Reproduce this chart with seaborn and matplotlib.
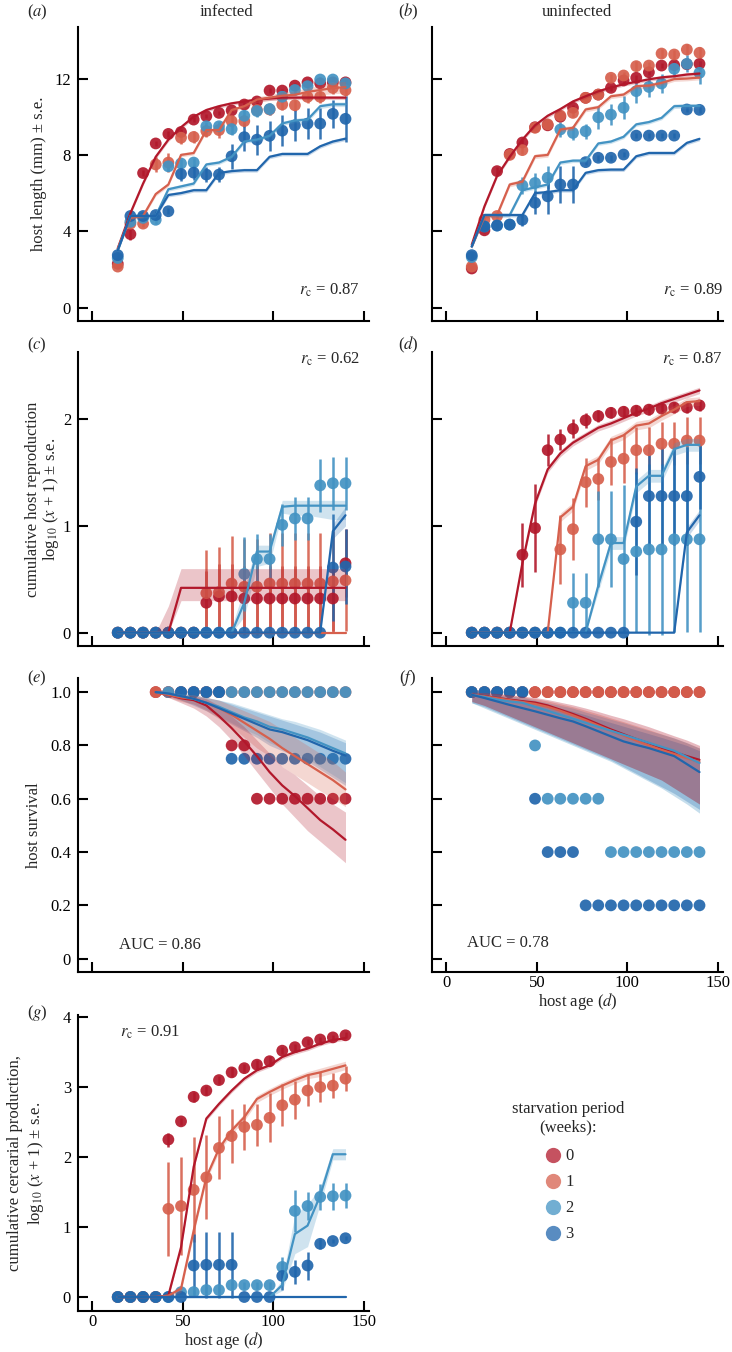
import numpy as np
import pandas as pd
import matplotlib
matplotlib.use("Agg")
import matplotlib.pyplot as plt
from matplotlib.lines import Line2D
import seaborn as sns

# estilo geral
sns.set_theme(style="ticks")
plt.rcParams['font.family'] = ['Liberation Serif', 'DejaVu Serif']
plt.rcParams['mathtext.fontset'] = 'stix'
plt.rcParams['font.size'] = 12

nan = np.nan

# --- dados ---
WEEKS = [0, 1, 2, 3]
PAL = {0: '#b2182b', 1: '#d6604d', 2: '#4393c3', 3: '#2166ac'}

AGES = [14, 21, 28, 35, 42, 49, 56, 63, 70, 77, 84, 91, 98, 105, 112, 119, 126, 133, 140]
E_AGES = [35, 42, 49, 56, 63, 70, 77, 84, 91, 98, 105, 112, 119, 126, 133, 140]

# (a) comprimento, infectados
a_mean = {
    0: [2.3, 3.85, 7.05, 8.6, 9.1, 9.2, 9.85, 10.03, 10.2, 10.33, 10.64, 10.8, 11.37, 11.37, 11.63, 11.8, 11.75, 11.8, 11.8],
    1: [2.15, 4.4, 4.4, 7.5, 7.6, 8.9, 8.94, 9.25, 9.3, 9.77, 9.77, 10.35, 10.38, 10.64, 10.6, 11.04, 11.04, 11.51, 11.39],
    2: [2.6, 4.5, 4.7, 4.6, 7.4, 7.55, 7.6, 9.5, 9.5, 9.35, 10.05, 10.3, 10.4, 11.05, 11.4, 11.6, 11.95, 11.95, 11.75],
    3: [2.75, 4.8, 4.8, 4.85, 5.05, 7.0, 7.07, 6.97, 6.97, 7.93, 8.93, 8.8, 9.0, 9.27, 9.55, 9.64, 9.64, 10.15, 9.89],
}
a_se = {
    0: [0.15, 0.3, 0.15, 0.15, 0.15, 0.15, 0.12, 0.1, 0.1, 0.1, 0.12, 0.12, 0.12, 0.1, 0.12, 0.1, 0.12, 0.15, 0.2],
    1: [0.12, 0.3, 0.2, 0.4, 0.5, 0.35, 0.3, 0.3, 0.4, 0.3, 0.3, 0.3, 0.3, 0.3, 0.3, 0.3, 0.3, 0.3, 0.3],
    2: [0.12, 0.2, 0.15, 0.2, 0.25, 0.25, 0.25, 0.25, 0.25, 0.3, 0.3, 0.3, 0.3, 0.3, 0.25, 0.2, 0.15, 0.15, 0.15],
    3: [0.12, 0.2, 0.15, 0.2, 0.15, 0.35, 0.4, 0.4, 0.4, 0.66, 0.75, 0.78, 0.8, 0.8, 0.8, 0.8, 0.8, 0.75, 1.2],
}
a_fit = {
    0: [3.1, 4.95, 6.5, 7.9, 8.8, 9.45, 10.0, 10.35, 10.55, 10.7, 10.8, 10.9, 10.95, 11.0, 11.0, 11.0, 11.0, 11.0, 11.0],
    1: [3.1, 4.7, 4.8, 5.95, 6.45, 8.0, 8.1, 9.3, 9.3, 10.35, 10.55, 10.9, 11.0, 11.1, 11.15, 11.3, 11.4, 11.5, 11.55],
    2: [3.0, 4.8, 4.8, 4.8, 6.2, 6.35, 6.5, 7.5, 7.6, 7.9, 8.7, 8.8, 9.0, 9.65, 9.8, 9.85, 10.55, 10.65, 10.65],
    3: [3.0, 4.8, 4.8, 4.8, 5.9, 6.0, 6.15, 6.15, 7.05, 7.15, 7.2, 7.2, 7.9, 8.05, 8.05, 8.05, 8.45, 8.7, 8.85],
}
a_bw = {
    0: [0.1, 0.1, 0.1, 0.1, 0.1, 0.1, 0.1, 0.1, 0.1, 0.1, 0.1, 0.1, 0.1, 0.1, 0.1, 0.1, 0.1, 0.1, 0.1],
    1: [0.1, 0.1, 0.1, 0.1, 0.1, 0.1, 0.1, 0.1, 0.1, 0.1, 0.1, 0.15, 0.15, 0.2, 0.2, 0.2, 0.25, 0.3, 0.3],
    2: [0.1, 0.1, 0.1, 0.1, 0.1, 0.1, 0.1, 0.1, 0.1, 0.1, 0.1, 0.1, 0.1, 0.1, 0.12, 0.12, 0.12, 0.12, 0.12],
    3: [0.1, 0.1, 0.1, 0.1, 0.1, 0.1, 0.1, 0.1, 0.1, 0.1, 0.1, 0.1, 0.1, 0.1, 0.1, 0.1, 0.1, 0.1, 0.1],
}

# (b) comprimento, não infectados
b_mean = {
    0: [2.05, 4.05, 7.15, 8.05, 8.65, 9.45, 9.55, 10.0, 10.47, 10.99, 11.16, 11.51, 11.9, 12.04, 12.33, 12.68, 12.7, 12.75, 12.77],
    1: [2.15, 4.6, 4.8, 8.0, 8.25, 9.42, 9.6, 10.06, 10.2, 10.99, 11.16, 12.04, 12.16, 12.65, 12.68, 13.31, 13.26, 13.52, 13.35],
    2: [2.65, 4.25, 4.3, 4.35, 6.4, 6.53, 6.8, 9.33, 9.15, 9.24, 9.97, 10.11, 10.47, 11.34, 11.56, 11.74, 12.51, 12.77, 12.3],
    3: [2.75, 4.25, 4.3, 4.35, 4.6, 5.49, 5.83, 6.45, 6.45, 7.62, 7.85, 7.85, 8.02, 9.01, 9.01, 9.01, 9.01, 10.38, 10.36],
}
b_se = {
    0: [0.1, 0.15, 0.2, 0.15, 0.15, 0.15, 0.15, 0.12, 0.15, 0.15, 0.15, 0.15, 0.2, 0.15, 0.15, 0.15, 0.15, 0.15, 0.15],
    1: [0.1, 0.15, 0.15, 0.15, 0.2, 0.15, 0.2, 0.2, 0.2, 0.2, 0.2, 0.2, 0.2, 0.25, 0.2, 0.25, 0.25, 0.3, 0.3],
    2: [0.1, 0.15, 0.15, 0.15, 0.45, 0.5, 0.6, 0.4, 0.35, 0.4, 0.6, 0.55, 0.6, 0.6, 0.55, 0.5, 0.45, 0.45, 0.6],
    3: [0.1, 0.15, 0.15, 0.15, 0.3, 0.6, 0.95, 0.95, 0.95, 0.15, 0.15, 0.15, 0.15, 0.15, 0.15, 0.15, 0.15, 0.15, 0.15],
}
b_fit = {
    0: [3.3, 5.3, 6.9, 7.9, 8.8, 9.55, 10.05, 10.4, 10.8, 11.07, 11.33, 11.53, 11.7, 11.83, 11.96, 12.06, 12.12, 12.21, 12.26],
    1: [3.2, 4.75, 4.85, 6.45, 6.6, 7.93, 8.0, 9.33, 9.42, 10.38, 10.5, 11.07, 11.16, 11.6, 11.63, 11.77, 11.97, 12.0, 12.05],
    2: [3.2, 4.85, 4.85, 4.85, 6.15, 6.3, 6.45, 7.6, 7.7, 7.7, 8.6, 8.7, 8.95, 9.6, 9.72, 9.94, 10.55, 10.57, 10.57],
    3: [3.2, 4.85, 4.85, 4.85, 4.85, 6.0, 6.05, 6.15, 6.15, 7.06, 7.2, 7.23, 7.23, 7.93, 8.1, 8.1, 8.1, 8.63, 8.84],
}
b_bw = {
    0: [0.1, 0.1, 0.1, 0.1, 0.1, 0.1, 0.1, 0.1, 0.1, 0.1, 0.1, 0.1, 0.1, 0.1, 0.1, 0.1, 0.1, 0.1, 0.1],
    1: [0.1, 0.1, 0.1, 0.12, 0.12, 0.12, 0.12, 0.12, 0.12, 0.12, 0.12, 0.12, 0.12, 0.12, 0.12, 0.12, 0.12, 0.12, 0.12],
    2: [0.1, 0.1, 0.1, 0.1, 0.1, 0.1, 0.1, 0.1, 0.1, 0.1, 0.1, 0.1, 0.1, 0.1, 0.1, 0.1, 0.12, 0.12, 0.12],
    3: [0.1, 0.1, 0.1, 0.1, 0.1, 0.1, 0.1, 0.1, 0.1, 0.1, 0.1, 0.1, 0.1, 0.1, 0.1, 0.1, 0.1, 0.1, 0.1],
}

# (c) reprodução acumulada, infectados
c_mean = {
    0: [0, 0, 0, 0, 0, 0, 0, 0.28, 0.34, 0.34, 0.32, 0.32, 0.32, 0.32, 0.32, 0.32, 0.32, 0.32, 0.65],
    1: [0, 0, 0, 0, 0, 0, 0, 0.37, 0.38, 0.46, 0.43, 0.43, 0.46, 0.46, 0.46, 0.46, 0.46, 0.48, 0.49],
    2: [0, 0, 0, 0, 0, 0, 0, 0, 0, 0, 0.55, 0.69, 0.69, 1.01, 1.07, 1.07, 1.38, 1.4, 1.4],
    3: [0, 0, 0, 0, 0, 0, 0, 0, 0, 0, 0, 0, 0, 0, 0, 0, 0, 0.61, 0.62],
}
c_se = {
    0: [0, 0, 0, 0, 0, 0, 0, 0.3, 0.3, 0.3, 0.3, 0.3, 0.3, 0.3, 0.3, 0.3, 0.3, 0.3, 0.32],
    1: [0, 0, 0, 0, 0, 0, 0, 0.4, 0.42, 0.45, 0.45, 0.45, 0.47, 0.47, 0.47, 0.47, 0.47, 0.47, 0.47],
    2: [0, 0, 0, 0, 0, 0, 0, 0, 0, 0, 0.35, 0.23, 0.23, 0.2, 0.2, 0.2, 0.25, 0.25, 0.25],
    3: [0, 0, 0, 0, 0, 0, 0, 0, 0, 0, 0, 0, 0, 0, 0, 0, 0, 0.5, 0.35],
}
c_fit = {
    0: [0, 0, 0, 0, 0, 0.42, 0.42, 0.42, 0.42, 0.42, 0.42, 0.42, 0.42, 0.42, 0.42, 0.42, 0.42, 0.42, 0.42],
    1: [0, 0, 0, 0, 0, 0, 0, 0, 0, 0, 0, 0, 0, 0, 0, 0, 0, 0, 0],
    2: [0, 0, 0, 0, 0, 0, 0, 0, 0, 0, 0.28, 0.76, 0.76, 1.18, 1.19, 1.19, 1.19, 1.19, 1.19],
    3: [0, 0, 0, 0, 0, 0, 0, 0, 0, 0, 0, 0, 0, 0, 0, 0, 0, 0.95, 1.1],
}
c_lo = {
    0: [0, 0, 0, 0, 0, 0.3, 0.3, 0.3, 0.3, 0.3, 0.3, 0.3, 0.3, 0.3, 0.3, 0.3, 0.3, 0.3, 0.3],
    2: [0, 0, 0, 0, 0, 0, 0, 0, 0, 0, 0.15, 0.62, 0.65, 1.12, 1.1, 1.1, 1.08, 1.06, 1.06],
    3: [0, 0, 0, 0, 0, 0, 0, 0, 0, 0, 0, 0, 0, 0, 0, 0, 0, 0.88, 1.0],
}
c_hi = {
    0: [0, 0, 0, 0, 0.25, 0.6, 0.6, 0.6, 0.6, 0.6, 0.6, 0.6, 0.6, 0.6, 0.6, 0.6, 0.6, 0.6, 0.6],
    2: [0, 0, 0, 0, 0, 0, 0, 0, 0, 0.05, 0.42, 0.82, 0.82, 1.24, 1.24, 1.24, 1.24, 1.24, 1.24],
    3: [0, 0, 0, 0, 0, 0, 0, 0, 0, 0, 0, 0, 0, 0, 0, 0, 0, 1.02, 1.18],
}

# (d) reprodução acumulada, não infectados
d_mean = {
    0: [0, 0, 0, 0, 0.73, 0.98, 1.71, 1.81, 1.91, 1.99, 2.03, 2.06, 2.07, 2.08, 2.09, 2.1, 2.11, 2.11, 2.13],
    1: [0, 0, 0, 0, 0, 0, 0, 0.78, 0.97, 1.41, 1.44, 1.6, 1.63, 1.71, 1.71, 1.77, 1.77, 1.8, 1.8],
    2: [0, 0, 0, 0, 0, 0, 0, 0, 0.28, 0.28, 0.875, 0.875, 0.69, 0.76, 0.78, 0.78, 0.875, 0.875, 0.875],
    3: [0, 0, 0, 0, 0, 0, 0, 0, 0, 0, 0, 0, 0, 1.04, 1.28, 1.28, 1.28, 1.28, 1.46],
}
d_se = {
    0: [0, 0, 0, 0, 0.3, 0.41, 0.15, 0.1, 0.09, 0.07, 0.06, 0.05, 0.05, 0.05, 0.05, 0.05, 0.05, 0.05, 0.05],
    1: [0, 0, 0, 0, 0, 0, 0, 0.32, 0.29, 0.23, 0.2, 0.22, 0.23, 0.22, 0.22, 0.2, 0.2, 0.22, 0.22],
    2: [0, 0, 0, 0, 0, 0, 0, 0, 0.28, 0.28, 0.45, 0.45, 0.69, 0.75, 0.8, 0.8, 0.87, 0.87, 0.87],
    3: [0, 0, 0, 0, 0, 0, 0, 0, 0, 0, 0, 0, 0, 0.5, 0.46, 0.46, 0.46, 0.46, 0.3],
}
d_fit = {
    0: [0, 0, 0, 0, 0.65, 1.21, 1.53, 1.68, 1.78, 1.85, 1.92, 1.96, 2.01, 2.06, 2.1, 2.15, 2.19, 2.23, 2.27],
    1: [0, 0, 0, 0, 0, 0, 0, 1.08, 1.18, 1.56, 1.62, 1.8, 1.85, 1.94, 1.96, 2.03, 2.09, 2.16, 2.17],
    2: [0, 0, 0, 0, 0, 0, 0, 0, 0, 0, 0.44, 0.84, 0.84, 1.37, 1.47, 1.47, 1.72, 1.76, 1.76],
    3: [0, 0, 0, 0, 0, 0, 0, 0, 0, 0, 0, 0, 0, 0, 0, 0, 0, 0.94, 1.1],
}
d_bw = {
    0: [0, 0, 0, 0, 0.03, 0.03, 0.03, 0.03, 0.03, 0.03, 0.03, 0.03, 0.03, 0.03, 0.03, 0.03, 0.03, 0.03, 0.03],
    1: [0, 0, 0, 0, 0, 0, 0, 0.04, 0.04, 0.04, 0.04, 0.04, 0.04, 0.04, 0.04, 0.04, 0.04, 0.04, 0.04],
    2: [0, 0, 0, 0, 0, 0, 0, 0, 0, 0, 0.06, 0.06, 0.06, 0.06, 0.06, 0.06, 0.06, 0.06, 0.06],
    3: [0, 0, 0, 0, 0, 0, 0, 0, 0, 0, 0, 0, 0, 0, 0, 0, 0, 0.05, 0.05],
}

# (e) sobrevivência, infectados (a partir de 35 dias)
e_mean = {
    0: [1.0, 1.0, 1.0, 1.0, 1.0, 1.0, 0.8, 0.8, 0.6, 0.6, 0.6, 0.6, 0.6, 0.6, 0.6, 0.6],
    1: [1.0, 1.0, 1.0, 1.0, 1.0, 1.0, 1.0, 1.0, 1.0, 1.0, 1.0, 1.0, 1.0, 1.0, 1.0, 1.0],
    2: [nan, 1.0, 1.0, 1.0, 1.0, 1.0, 1.0, 1.0, 1.0, 1.0, 1.0, 1.0, 1.0, 1.0, 1.0, 1.0],
    3: [nan, nan, 1.0, 1.0, 1.0, 1.0, 0.75, 0.75, 0.75, 0.75, 0.75, 0.75, 0.75, 0.75, 0.75, 0.75],
}
e_fit = {
    0: [1.0, 0.99, 0.977, 0.97, 0.95, 0.91, 0.865, 0.815, 0.76, 0.70, 0.65, 0.61, 0.565, 0.52, 0.485, 0.446],
    1: [1.0, 0.99, 0.98, 0.975, 0.96, 0.94, 0.915, 0.885, 0.855, 0.825, 0.79, 0.76, 0.73, 0.70, 0.67, 0.635],
    2: [1.0, 0.995, 0.985, 0.975, 0.96, 0.945, 0.925, 0.905, 0.89, 0.87, 0.86, 0.845, 0.83, 0.81, 0.79, 0.77],
    3: [1.0, 0.995, 0.985, 0.975, 0.96, 0.94, 0.92, 0.9, 0.88, 0.86, 0.85, 0.835, 0.82, 0.80, 0.78, 0.762],
}
e_lo = {
    0: [1.0, 0.98, 0.96, 0.94, 0.91, 0.87, 0.82, 0.76, 0.7, 0.64, 0.58, 0.53, 0.48, 0.44, 0.4, 0.36],
    1: [1.0, 0.98, 0.965, 0.955, 0.93, 0.9, 0.87, 0.83, 0.79, 0.76, 0.72, 0.69, 0.66, 0.63, 0.6, 0.57],
    2: [1.0, 0.985, 0.97, 0.955, 0.935, 0.91, 0.885, 0.86, 0.84, 0.81, 0.79, 0.77, 0.75, 0.72, 0.69, 0.66],
    3: [1.0, 0.985, 0.97, 0.95, 0.93, 0.905, 0.88, 0.855, 0.83, 0.8, 0.78, 0.76, 0.74, 0.71, 0.68, 0.65],
}
e_hi = {
    0: [1.0, 1.0, 0.99, 0.985, 0.975, 0.95, 0.91, 0.87, 0.82, 0.77, 0.72, 0.69, 0.65, 0.61, 0.58, 0.55],
    1: [1.0, 1.0, 0.99, 0.99, 0.98, 0.97, 0.95, 0.93, 0.91, 0.89, 0.86, 0.83, 0.8, 0.77, 0.74, 0.7],
    2: [1.0, 1.0, 0.995, 0.99, 0.98, 0.97, 0.96, 0.945, 0.93, 0.915, 0.9, 0.89, 0.875, 0.86, 0.84, 0.82],
    3: [1.0, 1.0, 0.995, 0.99, 0.98, 0.97, 0.955, 0.94, 0.925, 0.91, 0.895, 0.88, 0.865, 0.85, 0.83, 0.81],
}

# (f) sobrevivência, não infectados
f_mean = {
    0: [1.0, 1.0, 1.0, 1.0, 1.0, 1.0, 1.0, 1.0, 1.0, 1.0, 1.0, 1.0, 1.0, 1.0, 1.0, 1.0, 1.0, 1.0, 1.0],
    1: [1.0, 1.0, 1.0, 1.0, 1.0, 1.0, 1.0, 1.0, 1.0, 1.0, 1.0, 1.0, 1.0, 1.0, 1.0, 1.0, 1.0, 1.0, 1.0],
    2: [1.0, 1.0, 1.0, 1.0, 1.0, 0.8, 0.6, 0.6, 0.6, 0.6, 0.6, 0.4, 0.4, 0.4, 0.4, 0.4, 0.4, 0.4, 0.4],
    3: [1.0, 1.0, 1.0, 1.0, 1.0, 0.6, 0.4, 0.4, 0.4, 0.2, 0.2, 0.2, 0.2, 0.2, 0.2, 0.2, 0.2, 0.2, 0.2],
}
f_fit = {
    0: [0.99, 0.985, 0.978, 0.972, 0.966, 0.961, 0.95, 0.934, 0.918, 0.9, 0.88, 0.86, 0.842, 0.824, 0.808, 0.79, 0.775, 0.76, 0.746],
    1: [0.99, 0.984, 0.977, 0.97, 0.963, 0.956, 0.945, 0.93, 0.913, 0.895, 0.875, 0.855, 0.837, 0.818, 0.8, 0.783, 0.768, 0.752, 0.738],
    2: [0.99, 0.982, 0.972, 0.965, 0.96, 0.945, 0.93, 0.915, 0.9, 0.885, 0.87, 0.855, 0.84, 0.825, 0.81, 0.795, 0.78, 0.757, 0.734],
    3: [0.99, 0.978, 0.965, 0.952, 0.94, 0.928, 0.915, 0.902, 0.89, 0.872, 0.853, 0.834, 0.815, 0.802, 0.79, 0.775, 0.76, 0.73, 0.7],
}
f_lo = {
    0: [0.965, 0.95, 0.93, 0.91, 0.89, 0.87, 0.85, 0.83, 0.81, 0.79, 0.77, 0.75, 0.73, 0.71, 0.69, 0.67, 0.64, 0.61, 0.58],
    1: [0.965, 0.95, 0.93, 0.91, 0.89, 0.87, 0.85, 0.83, 0.81, 0.79, 0.77, 0.75, 0.73, 0.71, 0.69, 0.67, 0.64, 0.61, 0.58],
    2: [0.96, 0.94, 0.92, 0.9, 0.88, 0.86, 0.84, 0.82, 0.8, 0.78, 0.76, 0.74, 0.715, 0.69, 0.665, 0.64, 0.61, 0.58, 0.546],
    3: [0.96, 0.945, 0.925, 0.905, 0.885, 0.865, 0.845, 0.825, 0.805, 0.785, 0.765, 0.745, 0.72, 0.695, 0.67, 0.645, 0.62, 0.59, 0.56],
}
f_hi = {
    0: [1.0, 0.998, 0.995, 0.99, 0.985, 0.98, 0.972, 0.962, 0.952, 0.94, 0.927, 0.913, 0.9, 0.885, 0.87, 0.853, 0.836, 0.82, 0.8],
    1: [1.0, 0.997, 0.993, 0.988, 0.982, 0.976, 0.967, 0.956, 0.945, 0.932, 0.918, 0.903, 0.889, 0.874, 0.859, 0.843, 0.827, 0.81, 0.79],
    2: [1.0, 0.995, 0.99, 0.985, 0.98, 0.97, 0.96, 0.95, 0.94, 0.925, 0.912, 0.898, 0.885, 0.87, 0.856, 0.842, 0.828, 0.81, 0.79],
    3: [1.0, 0.993, 0.985, 0.978, 0.97, 0.96, 0.95, 0.94, 0.928, 0.915, 0.9, 0.886, 0.872, 0.858, 0.844, 0.83, 0.815, 0.8, 0.78],
}

# (g) produção acumulada de cercárias
g_mean = {
    0: [0, 0, 0, 0, 2.25, 2.51, 2.86, 2.95, 3.1, 3.21, 3.27, 3.32, 3.37, 3.52, 3.57, 3.64, 3.68, 3.71, 3.74],
    1: [0, 0, 0, 0, 1.26, 1.3, 1.53, 1.71, 2.13, 2.3, 2.43, 2.46, 2.56, 2.74, 2.82, 2.95, 3.0, 3.02, 3.12],
    2: [0, 0, 0, 0, 0, 0.07, 0.07, 0.1, 0.1, 0.17, 0.17, 0.17, 0.17, 0.43, 1.23, 1.3, 1.43, 1.44, 1.45],
    3: [0, 0, 0, 0, 0, 0, 0.45, 0.46, 0.46, 0.46, 0, 0, 0, 0.3, 0.36, 0.45, 0.76, 0.8, 0.84],
}
g_se = {
    0: [0, 0, 0, 0, 0.1, 0.05, 0.07, 0.07, 0.06, 0.07, 0.06, 0.07, 0.07, 0.05, 0.05, 0.04, 0.04, 0.04, 0.04],
    1: [0, 0, 0, 0, 0.67, 0.7, 0.75, 0.6, 0.45, 0.38, 0.33, 0.3, 0.35, 0.3, 0.27, 0.22, 0.22, 0.18, 0.18],
    2: [0, 0, 0, 0, 0, 0.03, 0.03, 0.04, 0.04, 0.05, 0.05, 0.05, 0.05, 0.14, 0.3, 0.2, 0.18, 0.19, 0.18],
    3: [0, 0, 0, 0, 0, 0, 0.45, 0.47, 0.47, 0.47, 0, 0, 0, 0.2, 0.17, 0.2, 0.07, 0.03, 0.03],
}
g_fit = {
    0: [0, 0, 0, 0, 0.02, 0.71, 1.86, 2.55, 2.76, 2.95, 3.12, 3.24, 3.31, 3.43, 3.5, 3.55, 3.62, 3.67, 3.7],
    1: [0, 0, 0, 0, 0.02, 0.12, 0.95, 1.71, 2.12, 2.38, 2.57, 2.83, 2.93, 3.02, 3.1, 3.17, 3.21, 3.26, 3.31],
    2: [0, 0, 0, 0, 0, 0, 0, 0, 0, 0, 0, 0, 0, 0.17, 0.9, 1.02, 1.45, 2.04, 2.04],
    3: [0, 0, 0, 0, 0, 0, 0, 0, 0, 0, 0, 0, 0, 0, 0, 0, 0, 0, 0],
}
g_bw = {
    0: [0, 0, 0, 0, 0.03, 0.03, 0.03, 0.03, 0.03, 0.03, 0.03, 0.03, 0.03, 0.03, 0.03, 0.03, 0.03, 0.03, 0.03],
    1: [0, 0, 0, 0, 0.03, 0.05, 0.05, 0.05, 0.05, 0.05, 0.05, 0.05, 0.05, 0.05, 0.05, 0.05, 0.06, 0.06, 0.06],
    2: [0, 0, 0, 0, 0, 0, 0, 0, 0, 0, 0, 0, 0, 0.08, 0.28, 0.3, 0.12, 0.08, 0.08],
    3: [0, 0, 0, 0, 0, 0, 0, 0, 0, 0, 0, 0, 0, 0, 0, 0, 0, 0, 0],
}


def long_table(ages, series):
    rows = []
    for w in WEEKS:
        for t, v in zip(ages, series[w]):
            rows.append({'age': t, 'value': v, 'week': w})
    return pd.DataFrame(rows).dropna()


def draw_panel(ax, ages, mean, fit, se=None, bw=None, lo=None, hi=None,
               band_alpha=0.25, band_order=(3, 2, 1, 0)):
    # barras de erro
    if se is not None:
        for w in WEEKS:
            m = np.array(mean[w], dtype=float)
            s = np.array(se[w], dtype=float)
            keep = s > 0
            ax.vlines(np.array(ages)[keep], (m - s)[keep], (m + s)[keep],
                      color=PAL[w], lw=1.8, alpha=0.9, zorder=2)
    # pontos observados
    sns.scatterplot(data=long_table(ages, mean), x='age', y='value', hue='week',
                    palette=PAL, s=72, linewidth=0, alpha=0.92, legend=False,
                    ax=ax, zorder=3)
    # faixas do modelo
    for w in band_order:
        f = np.array(fit[w], dtype=float)
        if bw is not None:
            b = np.array(bw[w], dtype=float)
            ax.fill_between(ages, f - b, f + b, color=PAL[w], alpha=band_alpha,
                            lw=0, zorder=4)
        elif lo is not None and w in lo:
            ax.fill_between(ages, lo[w], hi[w], color=PAL[w], alpha=band_alpha,
                            lw=0, zorder=4)
    # linhas do modelo
    sns.lineplot(data=long_table(ages, fit), x='age', y='value', hue='week',
                 palette=PAL, estimator=None, lw=1.6, legend=False, ax=ax,
                 zorder=5)
    ax.set_xlabel('')
    ax.set_ylabel('')


# --- figura ---
W, H = 732, 1352
fig = plt.figure(figsize=(W / 100, H / 100), dpi=100)


def axes_px(x0, top, w, h):
    return fig.add_axes([x0 / W, 1 - (top + h) / H, w / W, h / H])


LX, RX, AW = 78, 432, 291
ax_a = axes_px(LX, 27, AW, 294)
ax_b = axes_px(RX, 27, AW, 294)
ax_c = axes_px(LX, 352, AW, 294)
ax_d = axes_px(RX, 352, AW, 294)
ax_e = axes_px(LX, 678, AW, 294)
ax_f = axes_px(RX, 678, AW, 294)
ax_g = axes_px(LX, 1015, AW, 296)

draw_panel(ax_a, AGES, a_mean, a_fit, se=a_se, bw=a_bw)
draw_panel(ax_b, AGES, b_mean, b_fit, se=b_se, bw=b_bw)
draw_panel(ax_c, AGES, c_mean, c_fit, se=c_se, lo=c_lo, hi=c_hi)
draw_panel(ax_d, AGES, d_mean, d_fit, se=d_se, bw=d_bw)
draw_panel(ax_e, E_AGES, e_mean, e_fit, lo=e_lo, hi=e_hi)
draw_panel(ax_f, AGES, f_mean, f_fit, lo=f_lo, hi=f_hi, band_alpha=0.3,
           band_order=(1, 3, 2, 0))
draw_panel(ax_g, AGES, g_mean, g_fit, se=g_se, bw=g_bw)

for ax in [ax_a, ax_b, ax_c, ax_d, ax_e, ax_f, ax_g]:
    sns.despine(ax=ax)
    for sp in ['left', 'bottom']:
        ax.spines[sp].set_linewidth(1.5)
        ax.spines[sp].set_color('black')
    ax.tick_params(direction='in', length=7, width=1.5, colors='black',
                   labelsize=12, pad=5)
    ax.tick_params(axis='x', pad=2)
    ax.set_xlim(-8, 153)
    ax.set_xticks([0, 50, 100, 150])

for ax in [ax_a, ax_b]:
    ax.set_ylim(-0.7, 14.7)
    ax.set_yticks([0, 4, 8, 12])
for ax in [ax_c, ax_d]:
    ax.set_ylim(-0.125, 2.63)
    ax.set_yticks([0, 1, 2])
for ax in [ax_e, ax_f]:
    ax.set_ylim(-0.05, 1.053)
    ax.set_yticks([0, 0.2, 0.4, 0.6, 0.8, 1.0])
    ax.set_yticklabels(['0', '0.2', '0.4', '0.6', '0.8', '1.0'])
ax_g.set_ylim(-0.2, 4.03)
ax_g.set_yticks([0, 1, 2, 3, 4])

for ax in [ax_a, ax_b, ax_c, ax_d, ax_e]:
    ax.tick_params(labelbottom=False)
for ax in [ax_b, ax_d, ax_f]:
    ax.tick_params(labelleft=False)

# rótulos dos eixos
ax_a.set_ylabel('host length (mm) ± s.e.', fontsize=12, labelpad=5)
ax_c.set_ylabel('cumulative host reproduction\nlog$_{10}$ ($x$ + 1) ± s.e.',
                fontsize=12, labelpad=1, linespacing=1.0)
ax_e.set_ylabel('host survival', fontsize=12, labelpad=6)
ax_g.set_ylabel('cumulative cercarial production,\nlog$_{10}$ ($x$ + 1) ± s.e.',
                fontsize=12, labelpad=12)
ax_f.set_xlabel('host age ($d$)', fontsize=12, labelpad=0)
ax_g.set_xlabel('host age ($d$)', fontsize=12, labelpad=0)

# anotações
ax_a.text(0.97, 0.105, r'$r_{\mathrm{c}}$ = 0.87', transform=ax_a.transAxes,
          ha='right', va='center', fontsize=12)
ax_b.text(1.0, 0.105, r'$r_{\mathrm{c}}$ = 0.89', transform=ax_b.transAxes,
          ha='right', va='center', fontsize=12)
ax_c.text(0.97, 0.975, r'$r_{\mathrm{c}}$ = 0.62', transform=ax_c.transAxes,
          ha='right', va='center', fontsize=12)
ax_d.text(1.0, 0.975, r'$r_{\mathrm{c}}$ = 0.87', transform=ax_d.transAxes,
          ha='right', va='center', fontsize=12)
ax_e.text(0.14, 0.092, 'AUC = 0.86', transform=ax_e.transAxes,
          ha='left', va='center', fontsize=12)
ax_f.text(0.12, 0.1, 'AUC = 0.78', transform=ax_f.transAxes,
          ha='left', va='center', fontsize=12)
ax_g.text(0.144, 0.94, r'$r_{\mathrm{c}}$ = 0.91', transform=ax_g.transAxes,
          ha='left', va='center', fontsize=12)

# letras dos painéis e títulos das colunas
for letter, px, py in [('a', 37, 12), ('b', 408, 12), ('c', 37, 345),
                       ('d', 408, 345), ('e', 37, 678), ('f', 408, 678),
                       ('g', 37, 1013)]:
    fig.text(px / W, 1 - py / H, '($%s$)' % letter, ha='center', va='center',
             fontsize=12)
fig.text(226 / W, 1 - 12 / H, 'infected', ha='center', va='center', fontsize=12)
fig.text(577 / W, 1 - 12 / H, 'uninfected', ha='center', va='center', fontsize=12)

# legenda
fig.text(568 / W, 1 - 1118 / H, 'starvation period\n(weeks):', ha='center',
         va='center', fontsize=12, linespacing=1.15)
handles = [Line2D([], [], marker='o', ls='', color=PAL[w], alpha=0.75,
                  markersize=11, markeredgewidth=0) for w in WEEKS]
fig.legend(handles, ['0', '1', '2', '3'], loc='upper left',
           bbox_to_anchor=(535 / W, 1 - 1140 / H), frameon=False,
           handletextpad=0.1, labelspacing=0.6, borderpad=0, handlelength=1.2,
           fontsize=12)

fig.savefig('out.png', dpi=100)
